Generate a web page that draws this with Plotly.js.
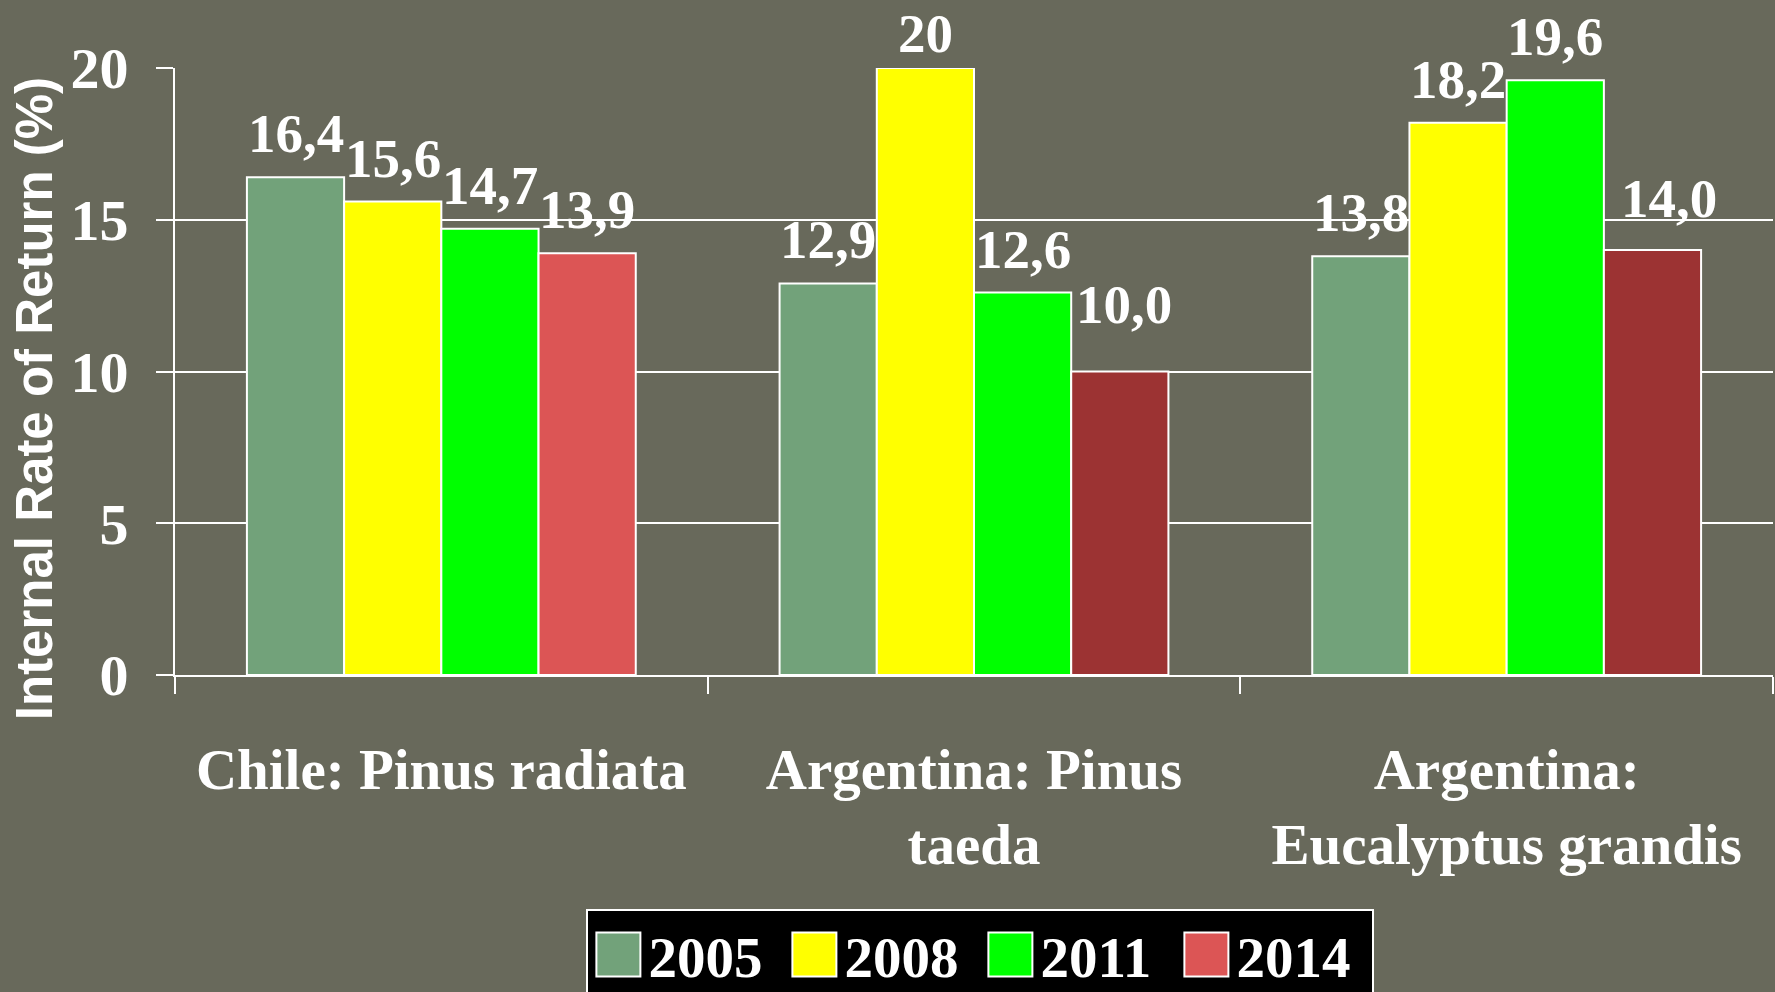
<!DOCTYPE html>
<html>
<head>
<meta charset="utf-8">
<script src="https://cdn.plot.ly/plotly-3.0.1.min.js"></script>
<style>
  html, body { margin: 0; padding: 0; background: #68695b; }
  #chart { width: 1775px; height: 992px; }
</style>
</head>
<body>
<div id="chart"></div>
<script>
// ---- data ----
const categories = ["Chile: Pinus radiata", "Argentina: Pinus<br>taeda", "Argentina:<br>Eucalyptus grandis"];
const years = ["2005", "2008", "2011", "2014"];
const irr2005 = [16.4, 12.9, 13.8];
const irr2008 = [15.6, 20.0, 18.2];
const irr2011 = [14.7, 12.6, 19.6];
const irr2014 = [13.9, 10.0, 14.0];
const labels2005 = ["16,4", "12,9", "13,8"];
const labels2008 = ["15,6", "20", "18,2"];
const labels2011 = ["14,7", "12,6", "19,6"];
const labels2014 = ["13,9", "10,0", "14,0"];
const yTickVals = [0, 5, 10, 15, 20];

// ---- styles ----
const serif = "Liberation Serif, Times New Roman, serif";
const seriesColors = ["#72a27a", "#ffff00", "#00ff00", "#dc5555"];
const colors2014PerBar = ["#dc5555", "#9c3333", "#9c3333"];
const BARGAP = 0.27;
const labelLift = 12;                                   // px gap between bar top and its label
const liftAdjust = [[0, 0, 0], [0, -9, 0], [0, 0, 0], [0, 24, 8]];
const shiftAdjust = [[0, 0, 0], [0, 0, 0], [0, 0, 0], [0, 4, 17]];

const seriesValues = [irr2005, irr2008, irr2011, irr2014];
const seriesLabels = [labels2005, labels2008, labels2011, labels2014];

const traces = seriesValues.map((vals, i) => ({
  type: "bar",
  name: years[i],
  x: categories,
  y: vals,
  marker: {
    color: i === 3 ? colors2014PerBar : seriesColors[i],
    line: { color: "#ffffff", width: 2 }
  },
  hoverinfo: "skip"
}));

// value labels, placed on the bars through the category/value axes
const nSeries = seriesValues.length;
const slot = (1 - BARGAP) / nSeries;
const annotations = [];
seriesValues.forEach((vals, i) => {
  vals.forEach((v, j) => {
    annotations.push({
      xref: "x", yref: "y",
      x: j + (i - (nSeries - 1) / 2) * slot,
      y: v,
      text: seriesLabels[i][j],
      showarrow: false,
      xanchor: "center",
      yanchor: "bottom",
      borderpad: 0,
      yshift: labelLift + liftAdjust[i][j],
      xshift: shiftAdjust[i][j],
      font: { family: serif, size: 55, color: "#ffffff", weight: "bold" }
    });
  });
});

// y-axis title (sits a little below the plot centre in the source)
annotations.push({
  xref: "paper", yref: "paper",
  x: -0.088, y: 0.455,
  xanchor: "center", yanchor: "middle",
  textangle: -90,
  showarrow: false,
  text: "Internal Rate of Return (%)",
  font: { family: "Liberation Sans, Arial, sans-serif", size: 51, color: "#ffffff", weight: "bold" }
});

const layout = {
  width: 1775,
  height: 992,
  paper_bgcolor: "#68695b",
  plot_bgcolor: "#68695b",
  margin: { l: 175, r: 2, t: 68, b: 317 },
  barmode: "group",
  bargap: BARGAP,
  bargroupgap: 0,
  font: { family: serif, color: "#ffffff", size: 56, weight: "bold" },
  xaxis: {
    type: "category",
    showgrid: false,
    showline: true,
    linecolor: "#ffffff",
    linewidth: 2,
    ticks: "outside",
    tickson: "boundaries",
    ticklen: 17,
    tickwidth: 2,
    tickcolor: "#ffffff",
    ticklabelstandoff: 44,
    tickfont: { family: serif, size: 57, color: "#ffffff", weight: "bold" }
  },
  yaxis: {
    range: [0, 20],
    tickvals: yTickVals,
    ticktext: yTickVals.map(String),
    showgrid: true,
    gridcolor: "#ffffff",
    gridwidth: 2,
    showline: true,
    linecolor: "#ffffff",
    linewidth: 2,
    ticks: "outside",
    ticklen: 17,
    tickwidth: 2,
    tickcolor: "#ffffff",
    ticklabelstandoff: 16,
    zeroline: false,
    tickfont: { family: serif, size: 58, color: "#ffffff", weight: "bold" }
  },
  annotations: annotations,
  showlegend: true,
  legend: {
    orientation: "h",
    x: 0.504,
    xanchor: "center",
    xref: "paper",
    yref: "container",
    y: 0.0837,
    yanchor: "top",
    bgcolor: "#000000",
    bordercolor: "#ffffff",
    borderwidth: 2,
    itemwidth: 50,
    entrywidth: 131,
    entrywidthmode: "pixels",
    font: { family: serif, size: 57, color: "#ffffff", weight: "bold" },
    traceorder: "normal"
  }
};

Plotly.newPlot("chart", traces, layout, { displayModeBar: false, staticPlot: true }).then(() => {
  // legend swatches: big white-edged squares, 2014 shown in the light red
  document.querySelectorAll(".legend .traces").forEach((g, idx) => {
    const p = g.querySelector(".legendpoints path");
    if (p) {
      p.style.fill = seriesColors[idx];
      p.setAttribute("d", "M-22,-22h44v44h-44z");
      p.style.stroke = "#ffffff";
      p.style.strokeWidth = "2px";
    }
  });
});
</script>
</body>
</html>
